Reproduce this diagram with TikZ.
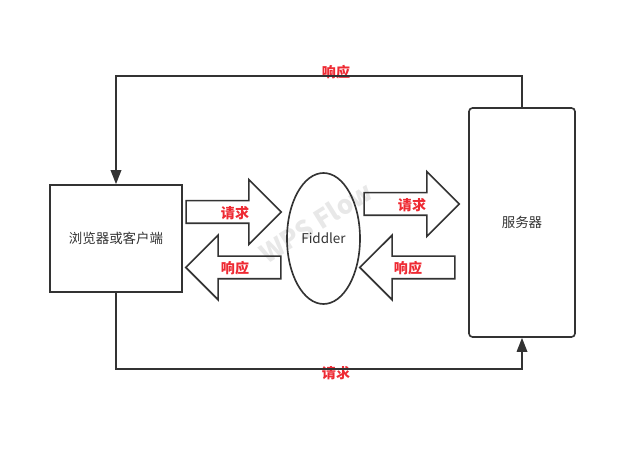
\documentclass[tikz,border=0pt]{standalone}
\usepackage{fontspec}
\setmainfont{Noto Sans CJK SC}
\usetikzlibrary{arrows.meta,shapes.geometric,shapes.arrows}
\definecolor{linegray}{HTML}{333333}
\definecolor{labelred}{HTML}{EE2A33}
\begin{document}
\begin{tikzpicture}
[x=0.03cm,y=-0.03cm,
  boxdecorate/.style={draw=linegray,line width=1.4pt,text=linegray,font=\fontsize{11.5}{13}\selectfont},
  blockdecorate/.style={shape=single arrow,draw=linegray,line width=1.4pt,inner xsep=0pt,inner ysep=0.315cm,
    minimum height=2.85cm,minimum width=1.89cm,single arrow head extend=0.63cm},
  linedecorate/.style={draw=linegray,line width=1.4pt,-{Triangle[length=12pt,width=9pt]}},
  labeldecorate/.style={text=labelred,font=\bfseries\fontsize{12}{14}\selectfont,inner sep=0pt}]
\useasboundingbox (0,0) rectangle (640,459);
%% watermark
\node (mark) at (316,222) [rotate=32,text=black!9,font=\bfseries\fontsize{22}{24}\selectfont] {WPS Flow};
%% boxes
\node (client) at (116,238.5) [boxdecorate,shape=rectangle,minimum width=3.96cm,minimum height=3.21cm] {浏览器或客户端};
\node (server) at (522,222.5) [boxdecorate,shape=rectangle,rounded corners=3pt,minimum width=3.18cm,minimum height=6.87cm] {服务器};
\node (fiddler) at (323.5,238.5) [boxdecorate,shape=ellipse,inner sep=0pt,minimum width=2.19cm,minimum height=3.93cm] {Fiddler};
%% block arrows
\foreach \nodename/\x/\y/\turn in {reqleft/228/212/0, respleft/239/267.5/180,
  reqright/406/204/0, respright/413/267.5/180} {
  \node (\nodename) at (\x,\y) [blockdecorate,shape border rotate=\turn] {};
}
%% labels
\foreach \nodename/\x/\y/\word in {reqlefttext/235/213/请求, resplefttext/235/268/响应,
  reqrighttext/412/205/请求, resprighttext/408/268/响应,
  toptext/336/72/响应, bottomtext/336/373/请求} {
  \node (\nodename) at (\x,\y) [labeldecorate] {\word};
}
%% corners of the long lines
\coordinate (topright) at (522,76);
\coordinate (topleft) at (116,76);
\coordinate (bottomleft) at (116,369);
\coordinate (bottomright) at (522,369);
%% edges or lines
\draw[linedecorate] (server.north) -- (topright) -- (topleft) -- (client.north);
\draw[linedecorate] (client.south) -- (bottomleft) -- (bottomright) -- (server.south);
\end{tikzpicture}
\end{document}
